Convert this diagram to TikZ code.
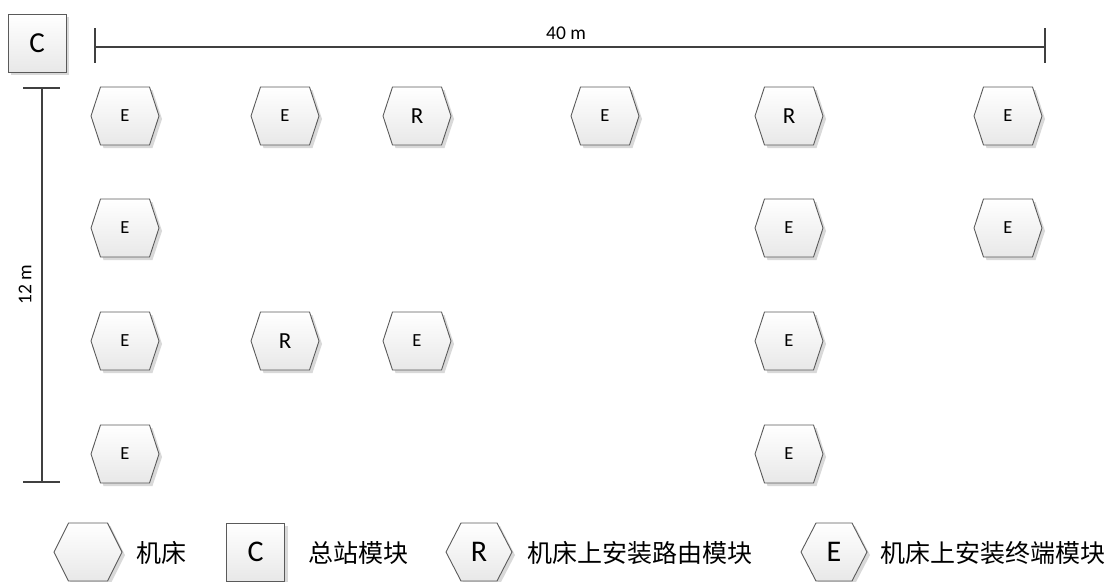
\documentclass[tikz,border=0pt]{standalone}
\usepackage{fontspec}
\setmainfont{Carlito}
\newfontfamily\cjk{Noto Sans CJK SC}
\usetikzlibrary{shadows}
\definecolor{hexline}{HTML}{5A5A5A}
\definecolor{dimcol}{HTML}{404040}
\definecolor{shadowcol}{HTML}{D9D9D9}
\tikzset{
  hexfill/.style={draw=hexline, line width=0.9pt, top color=white, bottom color=black!9, line join=miter},
  hexshadow/.style={fill=shadowcol, draw=none},
  gridE/.style={inner sep=0pt, font=\fontsize{18.5}{20}\selectfont},
  gridR/.style={inner sep=0pt, font=\fontsize{23}{25}\selectfont},
  legL/.style={inner sep=0pt, font=\fontsize{30}{32}\selectfont},
  legtext/.style={inner sep=0pt, font=\cjk\fontsize{25}{27}\selectfont},
  dimtext/.style={inner sep=0pt, font=\fontsize{19.5}{21}\selectfont},
  dimline/.style={draw=dimcol, line width=2.6pt},
  cbox/.style={draw=hexline, line width=0.9pt, top color=white, bottom color=black!9, minimum size=58pt, inner sep=0pt,
    drop shadow={shadow xshift=3pt, shadow yshift=-3pt, fill=shadowcol, opacity=1}},
}
% #1 name, #2 centre, #3 half width, #4 half width of top edge, #5 text style, #6 text
\newcommand\hexat[6]{%
  \begin{scope}[shift={(#2)}]
    \fill[hexshadow, shift={(3,3)}] (-#3,0) -- (-#4,-29) -- (#4,-29) -- (#3,0) -- (#4,29) -- (-#4,29) -- cycle;
    \path[hexfill] (-#3,0) -- (-#4,-29) -- (#4,-29) -- (#3,0) -- (#4,29) -- (-#4,29) -- cycle;
    \node[#5] (#1) at (0,0) {#6};
  \end{scope}}
\begin{document}
\begin{tikzpicture}[x=1pt, y=-1pt]
\useasboundingbox (0,0) rectangle (1111,581);

% master station
\node[cbox, font=\fontsize{29}{31}\selectfont] (C) at (37,43) {C};

% horizontal dimension
\coordinate (hL) at (95,47);
\coordinate (hR) at (1045,47);
\coordinate (hLt) at (95,28); \coordinate (hLb) at (95,63);
\coordinate (hRt) at (1045,28); \coordinate (hRb) at (1045,63);
\draw[dimline] (hL) -- (hR);
\draw[dimline] (hLt) -- (hLb);
\draw[dimline] (hRt) -- (hRb);
\node[dimtext] (w) at (566,33) {40 m};

% vertical dimension
\coordinate (vT) at (42,88);
\coordinate (vB) at (42,482);
\coordinate (vTl) at (23,88); \coordinate (vTr) at (60,88);
\coordinate (vBl) at (23,482); \coordinate (vBr) at (60,482);
\draw[dimline] (vT) -- (vB);
\draw[dimline] (vTl) -- (vTr);
\draw[dimline] (vBl) -- (vBr);
\node[dimtext, rotate=90] (h) at (25,285) {12 m};

% row 1
\hexat{a1}{125,116}{34}{24.5}{gridE}{E}
\hexat{a2}{285,116}{34}{24.5}{gridE}{E}
\hexat{a3}{417,116}{34}{24.5}{gridR}{R}
\hexat{a4}{605,116}{34}{24.5}{gridE}{E}
\hexat{a5}{789,116}{34}{24.5}{gridR}{R}
\hexat{a6}{1008,116}{34}{24.5}{gridE}{E}
% row 2
\hexat{b1}{125,228}{34}{24.5}{gridE}{E}
\hexat{b5}{789,228}{34}{24.5}{gridE}{E}
\hexat{b6}{1008,228}{34}{24.5}{gridE}{E}
% row 3
\hexat{c1}{125,341}{34}{24.5}{gridE}{E}
\hexat{c2}{285,341}{34}{24.5}{gridR}{R}
\hexat{c3}{417,341}{34}{24.5}{gridE}{E}
\hexat{c5}{789,341}{34}{24.5}{gridE}{E}
% row 4
\hexat{d1}{125,454}{34}{24.5}{gridE}{E}
\hexat{d5}{789,454}{34}{24.5}{gridE}{E}

% legend
\hexat{lm}{88,552}{34}{19.5}{legL}{}
\node[legtext] (lmt) at (161,553) {机床};
\node[cbox, font=\fontsize{30}{32}\selectfont] (lc) at (255.5,552) {C};
\node[legtext] (lct) at (358,553) {总站模块};
\hexat{lr}{479,552}{33}{18}{legL}{R}
\node[legtext] (lrt) at (640,553) {机床上安装路由模块};
\hexat{le}{834,552}{33}{18}{legL}{E}
\node[legtext] (let) at (993,553) {机床上安装终端模块};
\end{tikzpicture}
\end{document}
